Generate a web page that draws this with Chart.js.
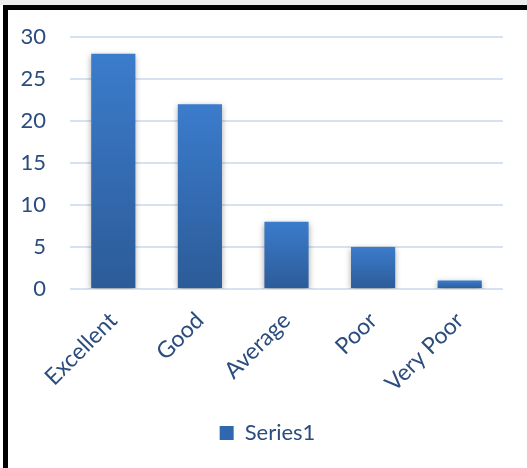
<!DOCTYPE html>
<html>
<head>
<meta charset="utf-8">
<script src="https://cdn.jsdelivr.net/npm/chart.js@4.4.1/dist/chart.umd.min.js"></script>
<style>
  html, body { margin: 0; padding: 0; background: #ffffff; width: 527px; height: 468px; overflow: hidden; }
  #strip { position: absolute; left: 0; top: 0; width: 527px; height: 5px; background: #ececec; }
  #wrap { position: absolute; left: 3px; top: 5px; width: 524px; height: 463px;
          border-top: 5px solid #000; border-left: 5px solid #000; box-sizing: border-box; background: #fff; }
  #c { display: block; }
</style>
</head>
<body>
<div id="strip"></div>
<div id="wrap"><canvas id="c" width="519" height="458"></canvas></div>
<script>
const categories = ["Excellent", "Good", "Average", "Poor", "Very Poor"];
const series1 = [28, 22, 8, 5, 1];
const yTicks = [0, 5, 10, 15, 20, 25, 30];

const textColor = "#2B4C7E";
const fontFamily = "Lato, 'Open Sans', 'DejaVu Sans', sans-serif";

function barGradient(ctx) {
  const chart = ctx.chart;
  if (!chart.chartArea || ctx.type !== 'data') return "#3670BA";
  const y = chart.scales.y;
  const top = y.getPixelForValue(ctx.parsed ? ctx.parsed.y : series1[ctx.dataIndex]);
  const base = y.getPixelForValue(0);
  const g = chart.ctx.createLinearGradient(0, top, 0, base);
  g.addColorStop(0, "#3B7CCC");
  g.addColorStop(1, "#2C5B98");
  return g;
}

const shadowPlugin = {
  id: 'barShadow',
  beforeDatasetsDraw(chart) {
    const c = chart.ctx;
    c.save();
    c.shadowColor = 'rgba(0,0,0,0.35)';
    c.shadowBlur = 6;
    c.shadowOffsetX = 0;
    c.shadowOffsetY = 2;
  },
  afterDatasetsDraw(chart) {
    chart.ctx.restore();
  }
};

new Chart(document.getElementById('c'), {
  type: 'bar',
  data: {
    labels: categories,
    datasets: [{
      label: 'Series1',
      data: series1,
      backgroundColor: barGradient,
      borderWidth: 0,
      categoryPercentage: 1.0,
      barPercentage: 0.51
    }]
  },
  plugins: [shadowPlugin],
  options: {
    responsive: false,
    animation: false,
    devicePixelRatio: 1,
    layout: { padding: { top: 27, right: 0, left: 0, bottom: 14 } },
    plugins: {
      tooltip: { enabled: false },
      legend: {
        position: 'bottom',
        labels: {
          color: textColor,
          font: { family: fontFamily, size: 22 },
          boxWidth: 14,
          boxHeight: 14,
          padding: 10,
          generateLabels(chart) {
            return [{ text: 'Series1', fillStyle: '#3167AE', strokeStyle: '#3167AE', lineWidth: 0, datasetIndex: 0, fontColor: textColor }];
          }
        }
      }
    },
    scales: {
      x: {
        grid: { display: false },
        border: { display: false },
        ticks: {
          color: textColor,
          font: { family: fontFamily, size: 23 },
          minRotation: 45,
          maxRotation: 45,
          padding: 10
        },
        afterFit(scale) { scale.height = 123; }
      },
      y: {
        min: 0,
        max: 30,
        afterBuildTicks(scale) { scale.ticks = yTicks.map(v => ({ value: v })); },
        grid: { color: '#D7E2F0', lineWidth: 2, drawTicks: true, tickLength: 24, tickColor: 'rgba(0,0,0,0)' },
        border: { display: false },
        ticks: {
          color: textColor,
          font: { family: fontFamily, size: 22 },
          padding: 0
        },
        afterFit(scale) { scale.width = 62; }
      },
      yRight: {
        position: 'right',
        display: true,
        grid: { display: false, drawTicks: false },
        border: { display: false },
        ticks: { display: false },
        afterFit(scale) { scale.width = 24; }
      }
    }
  }
});
</script>
</body>
</html>
